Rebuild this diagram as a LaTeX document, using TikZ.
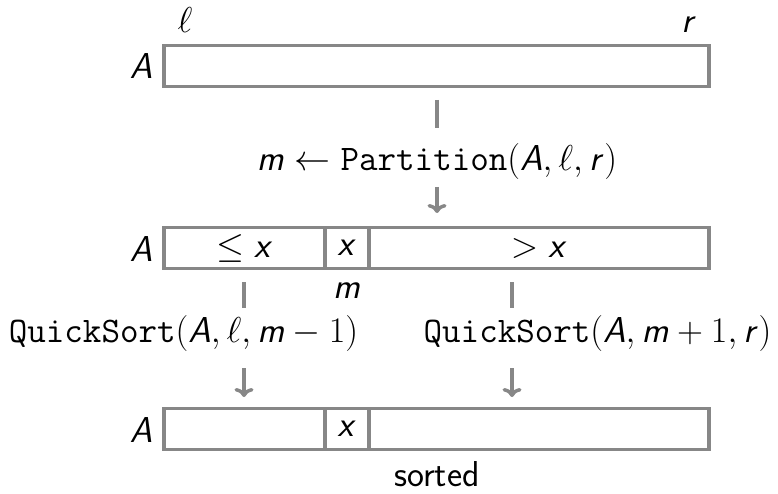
\RequirePackage{fix-cm}
\documentclass[tikz,border=0pt]{standalone}
\usetikzlibrary{arrows.meta}
\DeclareSymbolFont{sfit}{OT1}{cmss}{m}{sl}
\DeclareMathSymbol{A}{\mathalpha}{sfit}{`A}
\DeclareMathSymbol{m}{\mathalpha}{sfit}{`m}
\DeclareMathSymbol{r}{\mathalpha}{sfit}{`r}
\DeclareMathSymbol{x}{\mathalpha}{sfit}{`x}
\definecolor{boxgray}{gray}{0.53}
\begin{document}
\begin{tikzpicture}[x=1pt,y=-1pt,
  every node/.style={font=\fontsize{36}{43}\selectfont, inner sep=0pt},
  seg/.style={draw=boxgray, line width=3.5pt, minimum height=41pt, inner sep=0pt},
  lbl/.style={anchor=base},
  stem/.style={draw=boxgray, line width=3.5pt},
  tip/.style={stem, -{Computer Modern Rightarrow[length=9pt,width=19pt]}}]
\useasboundingbox (0,0) rectangle (778,494);
% top array
\node[seg, minimum width=545pt] (top) at (436.5,66) {};
\node[lbl] (ell) at (185,33) {$\ell$};
\node[lbl] (rr) at (689,33) {$r$};
\node[lbl] (A1) at (141,79) {$A$};
% partition step
\coordinate (p1) at (437,100);
\coordinate (p2) at (437,128);
\node[lbl] (part) at (437,171) {$m \leftarrow \texttt{Partition}(A,\ell,r)$};
\coordinate (p3) at (437,187);
\coordinate (p4) at (437,213);
\draw[stem] (p1) -- (p2);
\draw[tip] (p3) -- (p4);
% partitioned array
\node[seg, minimum width=161pt] (L2) at (244.5,248) {$\le x$};
\node[seg, minimum width=44pt] (M2) at (347,248) {$x$};
\node[seg, minimum width=340pt] (R2) at (539,248) {$> x$};
\node[lbl] (A2) at (141,261) {$A$};
\node[lbl] (mlab) at (347,298) {$m$};
% recursive calls
\coordinate (l1) at (244,282);
\coordinate (l2) at (244,308);
\coordinate (l3) at (244,368);
\coordinate (l4) at (244,397);
\coordinate (r1) at (512,282);
\coordinate (r2) at (512,308);
\coordinate (r3) at (512,368);
\coordinate (r4) at (512,397);
\draw[stem] (l1) -- (l2);
\draw[tip] (l3) -- (l4);
\draw[stem] (r1) -- (r2);
\draw[tip] (r3) -- (r4);
\node[lbl] (qs1) at (183.5,342) {$\texttt{QuickSort}(A,\ell,m-1)$};
\node[lbl] (qs2) at (597.5,342) {$\texttt{QuickSort}(A,m+1,r)$};
% sorted array
\node[seg, minimum width=161pt] (L3) at (244.5,429) {};
\node[seg, minimum width=44pt] (M3) at (347,429) {$x$};
\node[seg, minimum width=340pt] (R3) at (539,429) {};
\node[lbl] (A3) at (141,442) {$A$};
\node[lbl] (srt) at (437,486) {\sffamily sorted};
\end{tikzpicture}
\end{document}
